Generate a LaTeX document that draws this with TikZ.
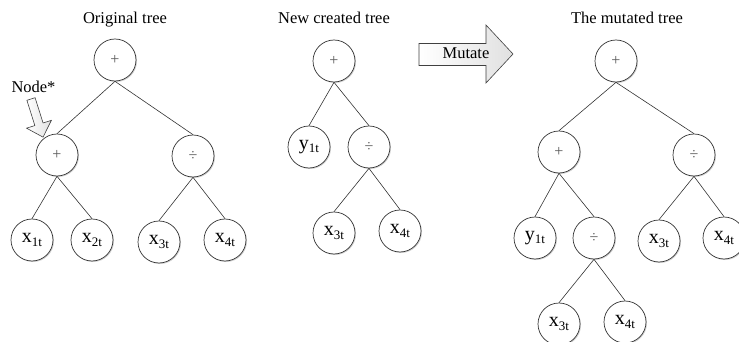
\documentclass[tikz,border=0pt]{standalone}
\usepackage{fontspec}
\setmainfont{Liberation Serif}
\usetikzlibrary{shadows}
\newcommand\vlab[2]{{\fontsize{20}{20}\selectfont #1}\raisebox{-3.5pt}{\fontsize{13}{13}\selectfont #2}}
\newcommand\oplab[1]{{\fontsize{16}{16}\selectfont\color{black!65}#1}}
\begin{document}
\begin{tikzpicture}[x=1pt,y=-1pt,
  tnode/.style={circle, draw=black!80, line width=0.7pt, fill=white, minimum size=42pt, inner sep=0pt,
    drop shadow={shadow xshift=1pt, shadow yshift=-1pt, fill=black!18, opacity=1}},
  edge/.style={draw=black!80, line width=0.6pt},
  title/.style={anchor=base, font=\fontsize{16.5}{16.5}\selectfont, inner sep=0pt},
  bigarrow/.style={draw=black!75, line width=0.6pt, left color=white, right color=black!12, line join=miter}
]
\useasboundingbox (0,0) rectangle (739,342);

% titles
\node[title] (t1) at (125,24) {Original tree};
\node[title] (t2) at (334,24) {New created tree};
\node[title] (t3) at (627,24) {The mutated tree};

% Original tree
\node[tnode] (o1) at (115,60) {\oplab{+}};
\node[tnode] (o2) at (57,155) {\oplab{+}};
\node[tnode] (o3) at (193,156) {\oplab{÷}};
\node[tnode] (o4) at (32,240) {\vlab{x}{1t}};
\node[tnode] (o5) at (92,240) {\vlab{x}{2t}};
\node[tnode] (o6) at (159,242) {\vlab{x}{3t}};
\node[tnode] (o7) at (225,240) {\vlab{x}{4t}};
\draw[edge] (o1.south) -- (o2.north);
\draw[edge] (o1.south) -- (o3.north);
\draw[edge] (o2.south) -- (o4.north);
\draw[edge] (o2.south) -- (o5.north);
\draw[edge] (o3.south) -- (o6.north);
\draw[edge] (o3.south) -- (o7.north);

% Node* label and arrow
\node[title] (ns) at (33.5,93) {Node*};
\begin{scope}[shift={(31,99)}, rotate=-72.5]
  \path[bigarrow] (0,-4.3) -- (26.5,-4.3) -- (26.5,-13) -- (40,0) -- (26.5,13) -- (26.5,4.3) -- (0,4.3) -- cycle;
\end{scope}

% New created tree
\node[tnode] (n1) at (334,61) {\oplab{+}};
\node[tnode] (n2) at (309,147) {\vlab{y}{1t}};
\node[tnode] (n3) at (369,147) {\oplab{÷}};
\node[tnode] (n4) at (334,233) {\vlab{x}{3t}};
\node[tnode] (n5) at (400,231) {\vlab{x}{4t}};
\draw[edge] (n1.south) -- (n2.north);
\draw[edge] (n1.south) -- (n3.north);
\draw[edge] (n3.south) -- (n4.north);
\draw[edge] (n3.south) -- (n5.north);

% Mutate arrow
\path[bigarrow] (419,43.5) -- (486,43.5) -- (486,25) -- (513,54) -- (486,83) -- (486,65.5) -- (419,65.5) -- cycle;
\node[title] (mu) at (466,59) {Mutate};

% Mutated tree
\node[tnode] (m1) at (616,61) {\oplab{+}};
\node[tnode] (m2) at (559,152) {\oplab{+}};
\node[tnode] (m3) at (694,155) {\oplab{÷}};
\node[tnode] (m4) at (535,238) {\vlab{y}{1t}};
\node[tnode] (m5) at (594,238) {\oplab{÷}};
\node[tnode] (m6) at (659,241) {\vlab{x}{3t}};
\node[tnode] (m7) at (724,238) {\vlab{x}{4t}};
\node[tnode] (m8) at (559,324) {\vlab{x}{3t}};
\node[tnode] (m9) at (625,322) {\vlab{x}{4t}};
\draw[edge] (m1.south) -- (m2.north);
\draw[edge] (m1.south) -- (m3.north);
\draw[edge] (m2.south) -- (m4.north);
\draw[edge] (m2.south) -- (m5.north);
\draw[edge] (m3.south) -- (m6.north);
\draw[edge] (m3.south) -- (m7.north);
\draw[edge] (m5.south) -- (m8.north);
\draw[edge] (m5.south) -- (m9.north);
\end{tikzpicture}
\end{document}
